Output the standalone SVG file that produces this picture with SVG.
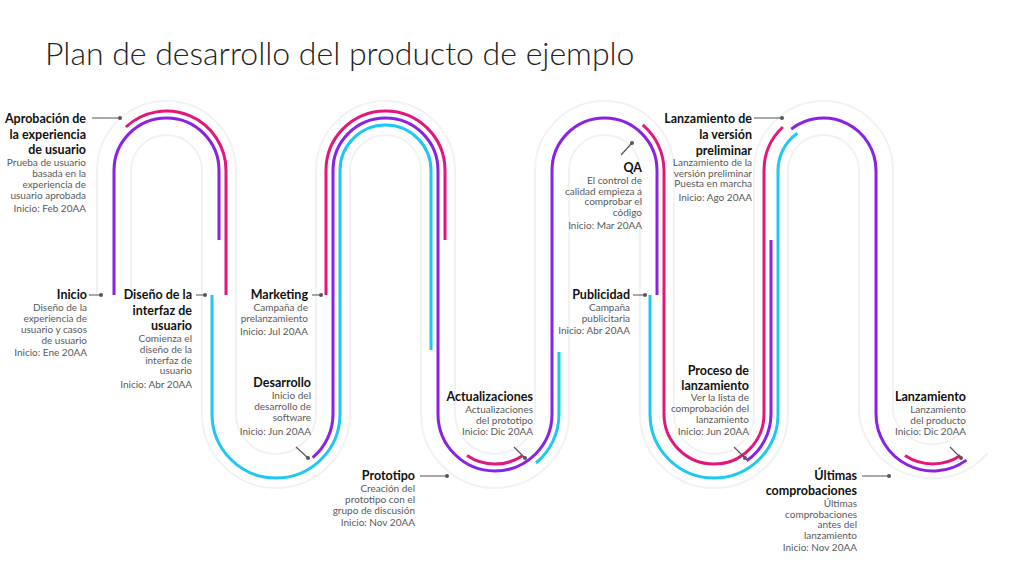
<svg xmlns="http://www.w3.org/2000/svg" width="1024" height="576" viewBox="0 0 1024 576">
<style>
.t{font-family:Lato,"Open Sans",sans-serif;font-weight:bold;font-size:12.5px;fill:#111;text-anchor:end}
.d{font-family:Lato,"Open Sans",sans-serif;font-size:10px;fill:#595959;text-anchor:end}
.p{fill:none;stroke:#e3177b;stroke-width:3}
.u{fill:none;stroke:#8a22e6;stroke-width:3}
.c{fill:none;stroke:#1ec8f0;stroke-width:3}
.ptr{stroke:#555;stroke-width:1.2;fill:none}
.dot{fill:#555}
</style>
<rect width="1024" height="576" fill="#fff"/>
<text x="45" y="65" font-family="Lato,'Open Sans',sans-serif" font-weight="300" font-size="32" fill="#222">Plan de desarrollo del producto de ejemplo</text>
<g id="track">
<path d="M114,295 V170.5 A52.5 52.5 0 0 1 219,170.5 V414 A57 57 0 0 0 333,414 V170.5 A52.5 52.5 0 0 1 438,170.5 V414 A57 57 0 0 0 552,414 V170.5 A52.5 52.5 0 0 1 657,170.5 V414 A57 57 0 0 0 771,414 V170.5 A52.5 52.5 0 0 1 876,170.5 V414 A57 57 0 0 0 975,442" fill="none" stroke="#f2f2f2" stroke-width="36"/>
<path d="M114,295 V170.5 A52.5 52.5 0 0 1 219,170.5 V414 A57 57 0 0 0 333,414 V170.5 A52.5 52.5 0 0 1 438,170.5 V414 A57 57 0 0 0 552,414 V170.5 A52.5 52.5 0 0 1 657,170.5 V414 A57 57 0 0 0 771,414 V170.5 A52.5 52.5 0 0 1 876,170.5 V414 A57 57 0 0 0 975,442" fill="none" stroke="#fff" stroke-width="32"/>
</g>
<g id="connectors">
<path class="p" d="M125.9,127 A59.5 59.5 0 0 1 226,170.5 V295"/>
<path class="u" d="M114,295 V170.5 A52.5 52.5 0 0 1 219,170.5 V240"/>
<path class="p" d="M326,295 V170.5 A59.5 59.5 0 0 1 445,170.5 V240"/>
<path class="c" d="M212,295 V414 A64 64 0 0 0 340,414 V170.5 A45.5 45.5 0 0 1 431,170.5 V350"/>
<path class="u" d="M312.6,457.7 A57 57 0 0 0 333,414 V170.5 A52.5 52.5 0 0 1 438,170.5 V414 A57 57 0 0 0 552,414 V170.5 A52.5 52.5 0 0 1 657,170.5 V295"/>
<path class="p" d="M467,455.5 A50 50 0 0 0 523,455.5"/>
<path class="c" d="M536,463 A64 64 0 0 0 559,414 V352"/>
<path class="p" d="M642.7,124.9 A59.5 59.5 0 0 1 664,170.5 V414 A50 50 0 0 0 764,414 V170.5 A59.5 59.5 0 0 1 782.9,127"/>
<path class="u" d="M791.2,129.1 A52.5 52.5 0 0 1 876,170.5 V414 A57 57 0 0 0 966.5,460.1"/>
<path class="c" d="M650,295 V414 A64 64 0 0 0 778,414 V170.5 A45.5 45.5 0 0 1 797.4,133.2"/>
<path class="u" d="M746.7,460.7 A57 57 0 0 0 771,414 V240"/>
<path class="p" d="M905,455.5 A50 50 0 0 0 960.5,455.5"/>
<path class="ptr" d="M92,118 H120 M89,295 H101 M196,295 H205 M312,295 H321 M296,447 L308,458 M420,476 H447 M514,447 L525,458 M632,143 L621,155 M633,295 H645 M754,118 H782 M734,447 L745,458 M862,476 H889 M950,447 L961,458"/>
<g class="dot"><circle cx="120" cy="118" r="2"/><circle cx="101" cy="295" r="2"/><circle cx="205" cy="295" r="2"/><circle cx="321" cy="295" r="2"/><circle cx="308" cy="458" r="2"/><circle cx="447" cy="476" r="2"/><circle cx="525" cy="458" r="2"/><circle cx="632" cy="143" r="2"/><circle cx="645" cy="295" r="2"/><circle cx="782" cy="118" r="2"/><circle cx="745" cy="458" r="2"/><circle cx="889" cy="476" r="2"/><circle cx="961" cy="458" r="2"/></g>
</g>
<g id="n-aprobacion"><text class="t" x="86" y="123">Aprobación de</text><text class="t" x="86" y="139">la experiencia</text><text class="t" x="86" y="154">de usuario</text><text class="d" x="86" y="166">Prueba de usuario</text><text class="d" x="86" y="177">basada en la</text><text class="d" x="86" y="188">experiencia de</text><text class="d" x="86" y="199">usuario aprobada</text><text class="d" x="86" y="212">Inicio: Feb 20AA</text></g>
<g id="n-inicio"><text class="t" x="87" y="299">Inicio</text><text class="d" x="87" y="311">Diseño de la</text><text class="d" x="87" y="322">experiencia de</text><text class="d" x="87" y="333">usuario y casos</text><text class="d" x="87" y="344">de usuario</text><text class="d" x="87" y="356">Inicio: Ene 20AA</text></g>
<g id="n-diseno"><text class="t" x="192" y="299">Diseño de la</text><text class="t" x="192" y="315">interfaz de</text><text class="t" x="192" y="330">usuario</text><text class="d" x="192" y="342">Comienza el</text><text class="d" x="192" y="353">diseño de la</text><text class="d" x="192" y="364">interfaz de</text><text class="d" x="192" y="374">usuario</text><text class="d" x="192" y="388">Inicio: Abr 20AA</text></g>
<g id="n-marketing"><text class="t" x="308" y="299">Marketing</text><text class="d" x="308" y="311">Campaña de</text><text class="d" x="308" y="322">prelanzamiento</text><text class="d" x="308" y="335">Inicio: Jul 20AA</text></g>
<g id="n-desarrollo"><text class="t" x="311" y="387">Desarrollo</text><text class="d" x="311" y="399">Inicio del</text><text class="d" x="311" y="410">desarrollo de</text><text class="d" x="311" y="421">software</text><text class="d" x="311" y="435">Inicio: Jun 20AA</text></g>
<g id="n-prototipo"><text class="t" x="415" y="480">Prototipo</text><text class="d" x="415" y="492">Creación del</text><text class="d" x="415" y="503">prototipo con el</text><text class="d" x="415" y="514">grupo de discusión</text><text class="d" x="415" y="526">Inicio: Nov 20AA</text></g>
<g id="n-actualizaciones"><text class="t" x="533" y="401">Actualizaciones</text><text class="d" x="533" y="413">Actualizaciones</text><text class="d" x="533" y="424">del prototipo</text><text class="d" x="533" y="435">Inicio: Dic 20AA</text></g>
<g id="n-qa"><text class="t" x="642" y="172">QA</text><text class="d" x="642" y="184">El control de</text><text class="d" x="642" y="195">calidad empieza a</text><text class="d" x="642" y="205">comprobar el</text><text class="d" x="642" y="216">código</text><text class="d" x="642" y="229">Inicio: Mar 20AA</text></g>
<g id="n-publicidad"><text class="t" x="630" y="299">Publicidad</text><text class="d" x="630" y="311">Campaña</text><text class="d" x="630" y="322">publicitaria</text><text class="d" x="630" y="334">Inicio: Abr 20AA</text></g>
<g id="n-preliminar"><text class="t" x="752" y="123">Lanzamiento de</text><text class="t" x="752" y="139">la versión</text><text class="t" x="752" y="155">preliminar</text><text class="d" x="752" y="166">Lanzamiento de la</text><text class="d" x="752" y="177">versión preliminar</text><text class="d" x="752" y="187">Puesta en marcha</text><text class="d" x="752" y="201">Inicio: Ago 20AA</text></g>
<g id="n-proceso"><text class="t" x="749" y="375">Proceso de</text><text class="t" x="749" y="390">lanzamiento</text><text class="d" x="749" y="401">Ver la lista de</text><text class="d" x="749" y="412">comprobación del</text><text class="d" x="749" y="423">lanzamiento</text><text class="d" x="749" y="435">Inicio: Jun 20AA</text></g>
<g id="n-ultimas"><text class="t" x="857" y="480">Últimas</text><text class="t" x="857" y="495">comprobaciones</text><text class="d" x="857" y="507">Últimas</text><text class="d" x="857" y="518">comprobaciones</text><text class="d" x="857" y="528">antes del</text><text class="d" x="857" y="539">lanzamiento</text><text class="d" x="857" y="551">Inicio: Nov 20AA</text></g>
<g id="n-lanzamiento"><text class="t" x="966" y="401">Lanzamiento</text><text class="d" x="966" y="413">Lanzamiento</text><text class="d" x="966" y="424">del producto</text><text class="d" x="966" y="435">Inicio: Dic 20AA</text></g>
</svg>
